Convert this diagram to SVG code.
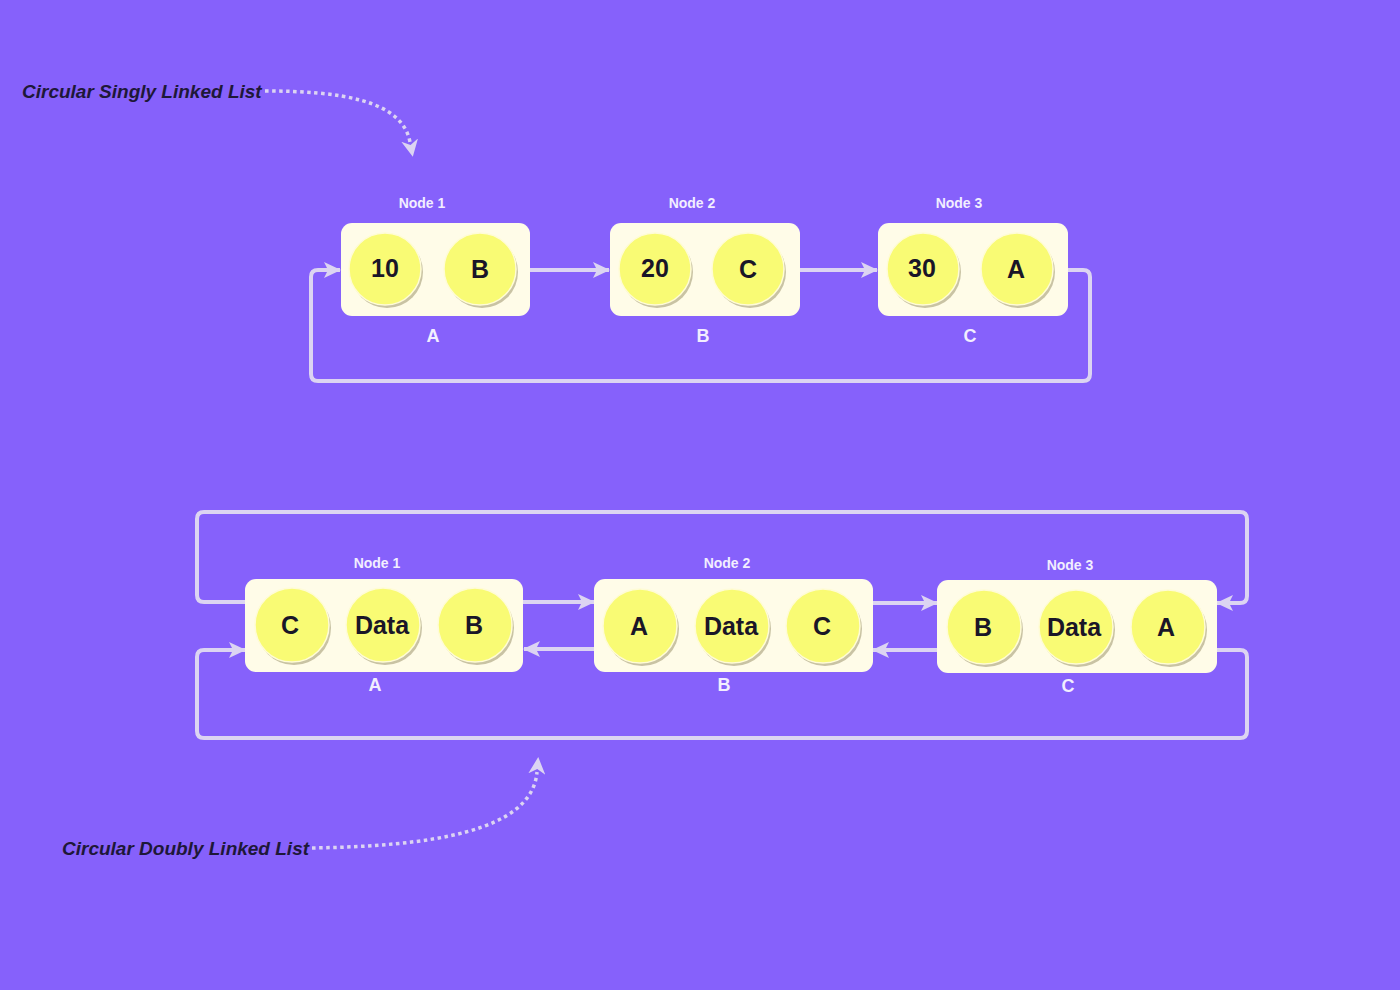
<svg xmlns="http://www.w3.org/2000/svg" width="1400" height="990" viewBox="0 0 1400 990">
<defs>
<style>
.box{fill:#FFFCE8;}
.sh{fill:#C9C3A4;}
.cir{fill:#F9FB74;stroke:#FFFCD6;stroke-width:1.5;}
.ct{font-family:"Liberation Sans",Arial,sans-serif;font-weight:bold;font-size:25px;fill:#1A1628;text-anchor:middle;}
.nl{font-family:"Liberation Sans",Arial,sans-serif;font-weight:bold;font-size:14px;fill:#F2EEFF;text-anchor:middle;}
.al{font-family:"Liberation Sans",Arial,sans-serif;font-weight:bold;font-size:18px;fill:#F2EEFF;text-anchor:middle;}
.ann{font-family:"Liberation Sans",Arial,sans-serif;font-weight:bold;font-style:italic;font-size:19px;fill:#1E1838;}
.ln{fill:none;stroke:#DCD4F2;stroke-width:4;marker-end:url(#ah);}
.dot{fill:none;stroke:#DCD4F2;stroke-width:3.5;stroke-dasharray:3.5 3.5;marker-end:url(#dh);}
</style>
<marker id="ah" markerUnits="userSpaceOnUse" markerWidth="17" markerHeight="16" viewBox="0 0 17 16" refX="16" refY="8" orient="auto">
<path d="M0,0 L17,8 L0,16 L4,8 z" fill="#DCD4F2"/>
</marker>
<marker id="dh" markerUnits="userSpaceOnUse" markerWidth="17" markerHeight="17" viewBox="0 0 17 17" refX="2" refY="8.5" orient="auto">
<path d="M0,0 L17,8.5 L0,17 L5,8.5 z" fill="#DCD4F2"/>
</marker>
</defs>
<rect x="0" y="0" width="1400" height="990" fill="#8661FB"/>

<g id="connectors">
<path class="ln" d="M530,270 H609"/>
<path class="ln" d="M800,270 H877"/>
<path class="ln" d="M1068,270 H1083 Q1090,270 1090,277 V374 Q1090,381 1083,381 H318 Q311,381 311,374 V277 Q311,270 318,270 H340"/>
<path class="ln" d="M523,602 H594"/>
<path class="ln" d="M594,649 H524"/>
<path class="ln" d="M873,603 H937"/>
<path class="ln" d="M937,650 H873"/>
<path class="ln" d="M245,602 H204 Q197,602 197,595 V519 Q197,512 204,512 H1240 Q1247,512 1247,519 V596 Q1247,603 1240,603 H1217"/>
<path class="ln" d="M1217,650 H1240 Q1247,650 1247,657 V731 Q1247,738 1240,738 H204 Q197,738 197,731 V657 Q197,650 204,650 H245"/>
<path class="dot" d="M265,91 C340,91 402,100 410,142"/>
<path class="dot" d="M312,848 C430,846 532,832 537,772"/>
</g>

<g id="labels">
<text class="ann" x="22" y="98">Circular Singly Linked List</text>
<text class="ann" x="62" y="855">Circular Doubly Linked List</text>
</g>

<g id="s-node1">
<text class="nl" x="422" y="208">Node 1</text>
<rect class="box" x="341" y="223" width="189" height="93" rx="11"/>
<circle class="sh" cx="387" cy="272" r="36"/><circle class="cir" cx="385" cy="269" r="36"/>
<text class="ct" x="385" y="277">10</text>
<circle class="sh" cx="482" cy="272" r="36"/><circle class="cir" cx="480" cy="269" r="36"/>
<text class="ct" x="480" y="278">B</text>
<text class="al" x="433" y="342">A</text>
</g>
<g id="s-node2">
<text class="nl" x="692" y="208">Node 2</text>
<rect class="box" x="610" y="223" width="190" height="93" rx="11"/>
<circle class="sh" cx="657" cy="272" r="36"/><circle class="cir" cx="655" cy="269" r="36"/>
<text class="ct" x="655" y="277">20</text>
<circle class="sh" cx="750" cy="272" r="36"/><circle class="cir" cx="748" cy="269" r="36"/>
<text class="ct" x="748" y="278">C</text>
<text class="al" x="703" y="342">B</text>
</g>
<g id="s-node3">
<text class="nl" x="959" y="208">Node 3</text>
<rect class="box" x="878" y="223" width="190" height="93" rx="11"/>
<circle class="sh" cx="925" cy="272" r="36"/><circle class="cir" cx="923" cy="269" r="36"/>
<text class="ct" x="922" y="277">30</text>
<circle class="sh" cx="1019" cy="272" r="36"/><circle class="cir" cx="1017" cy="269" r="36"/>
<text class="ct" x="1016" y="278">A</text>
<text class="al" x="970" y="342">C</text>
</g>

<g id="d-node1">
<text class="nl" x="377" y="568">Node 1</text>
<rect class="box" x="245" y="579" width="278" height="93" rx="11"/>
<circle class="sh" cx="294" cy="628" r="37"/><circle class="cir" cx="292" cy="625" r="37"/>
<text class="ct" x="290" y="634">C</text>
<circle class="sh" cx="385" cy="628" r="37"/><circle class="cir" cx="383" cy="625" r="37"/>
<text class="ct" x="382" y="634">Data</text>
<circle class="sh" cx="477" cy="628" r="37"/><circle class="cir" cx="475" cy="625" r="37"/>
<text class="ct" x="474" y="634">B</text>
<text class="al" x="375" y="691">A</text>
</g>
<g id="d-node2">
<text class="nl" x="727" y="568">Node 2</text>
<rect class="box" x="594" y="579" width="279" height="93" rx="11"/>
<circle class="sh" cx="642" cy="629" r="37"/><circle class="cir" cx="640" cy="626" r="37"/>
<text class="ct" x="639" y="635">A</text>
<circle class="sh" cx="734" cy="629" r="37"/><circle class="cir" cx="732" cy="626" r="37"/>
<text class="ct" x="731" y="635">Data</text>
<circle class="sh" cx="825" cy="629" r="37"/><circle class="cir" cx="823" cy="626" r="37"/>
<text class="ct" x="822" y="635">C</text>
<text class="al" x="724" y="691">B</text>
</g>
<g id="d-node3">
<text class="nl" x="1070" y="570">Node 3</text>
<rect class="box" x="937" y="580" width="280" height="93" rx="11"/>
<circle class="sh" cx="986" cy="630" r="37"/><circle class="cir" cx="984" cy="627" r="37"/>
<text class="ct" x="983" y="636">B</text>
<circle class="sh" cx="1078" cy="630" r="37"/><circle class="cir" cx="1076" cy="627" r="37"/>
<text class="ct" x="1074" y="636">Data</text>
<circle class="sh" cx="1170" cy="630" r="37"/><circle class="cir" cx="1168" cy="627" r="37"/>
<text class="ct" x="1166" y="636">A</text>
<text class="al" x="1068" y="692">C</text>
</g>
</svg>
